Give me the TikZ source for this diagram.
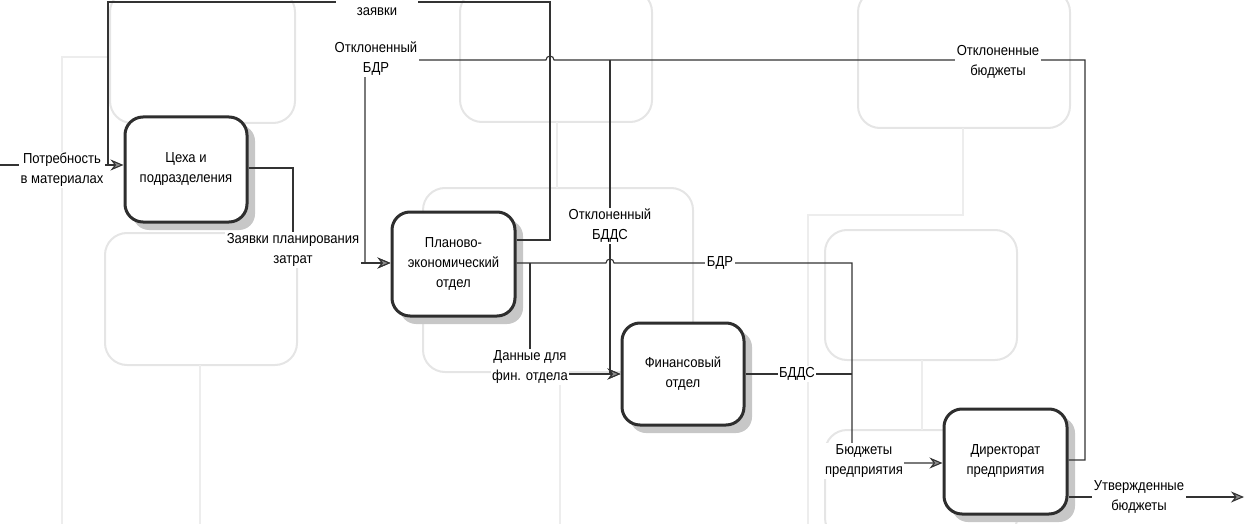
\documentclass[tikz,border=0pt]{standalone}
\usepackage{fontspec}
\setmainfont{Liberation Sans}[FakeStretch=0.9]
\usetikzlibrary{arrows.meta,calc,backgrounds}
\begin{document}
\begin{tikzpicture}[x=1pt,y=-1pt,
  font=\fontsize{14.5}{20}\selectfont,
  box/.style={draw=black!82, line width=3pt, rounded corners=18pt, fill=white,
    minimum width=122pt, minimum height=105pt, align=center, text=black},
  boxshadow/.style={fill=black!22, rounded corners=16pt},
  flow/.style={draw=black!80, line width=1.1pt},
  arr/.style={-{Stealth[length=13pt,width=11pt,fill=black!45]}},
  lbl/.style={fill=white, inner sep=1.5pt, align=center, text=black},
  ghost/.style={draw=black!10, line width=2pt, rounded corners=22pt},
  ghostline/.style={draw=black!7, line width=1.2pt},
]
\useasboundingbox (0,0) rectangle (1245,524);
% faint show-through of the reverse page
\draw[ghost] (110,-10) rectangle (295,123);
\draw[ghost] (460,-10) rectangle (652,122);
\draw[ghost] (858,-10) rectangle (1070,128);
\draw[ghost] (105,233) rectangle (297,365);
\draw[ghost] (423,188) rectangle (693,372);
\draw[ghost] (825,230) rectangle (1017,360);
\draw[ghost] (825,430) rectangle (1017,540);
\draw[ghostline] (108,57) -- (62,57) -- (62,524);
\draw[ghostline] (200,365) -- (200,524);
\draw[ghostline] (557,122) -- (557,188);
\draw[ghostline] (963,128) -- (963,215) -- (808,215) -- (808,524);
\draw[ghostline] (922,360) -- (922,430);
\draw[ghostline] (560,372) -- (560,524);

% box shadows (drawn first, beneath the boxes)
\fill[boxshadow] (133,125) rectangle (255,230);
\fill[boxshadow] (400,220) rectangle (523,324);
\fill[boxshadow] (630,331) rectangle (752,433);
\fill[boxshadow] (952,417) rectangle (1075,522);

% process boxes
\node[box] (ceh) at (186,169.5) {Цеха и\\подразделения};
\node[box, minimum width=123pt, minimum height=104pt] (plan) at (453.5,264) {Планово-\\экономический\\отдел};
\node[box, minimum height=102pt] (fin) at (683,374) {Финансовый\\отдел};
\node[box, minimum width=123pt] (dir) at (1005.5,461.5) {Директорат\\предприятия};

% helper coordinates
\coordinate (inL) at (0,165);
\coordinate (outR) at (1244,497);
\coordinate (y168) at (0,168);
\coordinate (y240) at (0,240);
\coordinate (y263) at (0,263);
\coordinate (y374) at (0,374);
\coordinate (y460) at (0,460);
\coordinate (y463) at (0,463);
\coordinate (y497) at (0,497);

% connectors
\draw[flow,arr] (inL) -- (ceh.west |- inL);
\draw[flow] (plan.east |- y240) -- (550,240) -- (550,2) -- (108,2) -- (108,165);
\draw[flow,arr] (dir.east |- y460) -- (1085,460) -- (1085,60) -- (554,60) arc(0:-180:4)
  -- (365,60) -- (365,263) -- (plan.west |- y263);
\draw[flow,arr] (610,60) -- (610,374) -- (fin.west |- y374);
\draw[flow,arr] (ceh.east |- y168) -- (293,168) -- (293,263) -- (plan.west |- y263);
\draw[flow,arr] (plan.east |- y263) -- (606,263) arc(-180:0:4) -- (852,263) -- (852,463)
  -- (dir.west |- y463);
\draw[flow,arr] (530,263) -- (530,374) -- (fin.west |- y374);
\draw[flow] (fin.east |- y374) -- (852,374);
\draw[flow,arr] (dir.east |- y497) -- (outR);

% labels
\node[lbl] (lPotr) at (62,170) {Потребность\\в материалах};
\node[lbl, minimum width=82pt, minimum height=22pt] (lZ) at (377,12) {заявки};
\node[lbl] (lOBDR) at (376,59) {Отклоненный\\БДР};
\node[lbl] (lOB) at (998,62) {Отклоненные\\бюджеты};
\node[lbl] (lZP) at (293,250) {Заявки планирования\\затрат};
\node[lbl] (lOBDDS) at (610,226) {Отклоненный\\БДДС};
\node[lbl] (lBDR) at (720,263) {БДР};
\node[lbl] (lD) at (530,367) {Данные для\\фин. отдела};
\node[lbl] (lBDDS) at (797,374) {БДДС};
\node[lbl] (lBP) at (864,461) {Бюджеты\\предприятия};
\node[lbl] (lUB) at (1139,497) {Утвержденные\\бюджеты};
\end{tikzpicture}
\end{document}
